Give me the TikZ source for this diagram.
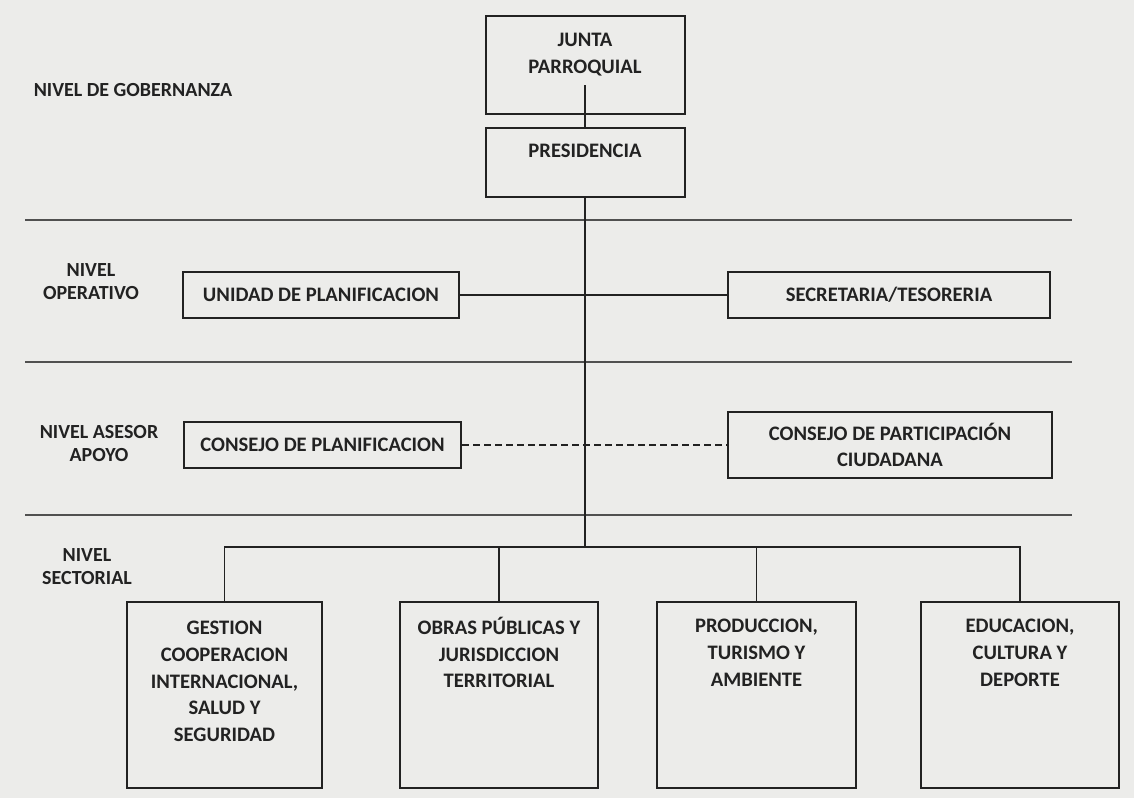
\documentclass[tikz,border=0pt]{standalone}
\usepackage{fontspec}
\setmainfont{Carlito}
\usepackage{tikz}
\usetikzlibrary{positioning}

\definecolor{paper}{RGB}{236,236,234}
\definecolor{ink}{RGB}{34,34,34}
\definecolor{rulegray}{RGB}{80,80,80}

\tikzset{
	unitbox/.style={draw=ink, line width=1pt, inner sep=0pt},
	boxtext/.style={text=ink, font=\bfseries\fontsize{10.3}{13.3}\selectfont, align=center, inner sep=0pt},
	leveltext/.style={text=ink, font=\bfseries\fontsize{10}{11.5}\selectfont, align=center, inner sep=0pt},
	link/.style={draw=ink, line width=0.8pt},
	levelrule/.style={draw=rulegray, line width=1pt}
}

\begin{document}
\begin{tikzpicture}[x=0.5pt, y=-0.5pt]
	\fill[paper] (0,0) rectangle (1134,798);
	\useasboundingbox (0,0) rectangle (1134,798);
	\foreach \y in {220,362,515}
	{
		\draw[levelrule] (25,\y) -- (1072,\y);
	}
	\node[leveltext] (gobernanza) at (133,90) {NIVEL DE GOBERNANZA};
	\node[leveltext] (operativo) at (91,282) {NIVEL\\OPERATIVO};
	\node[leveltext] (asesor) at (99,444) {NIVEL ASESOR\\APOYO};
	\node[leveltext] (sectorial) at (87,567) {NIVEL\\SECTORIAL};

	\node[unitbox, minimum width=99.5pt, minimum height=49pt] (junta) at (585,65) {};
	\node[boxtext, below=9pt of junta.north] (juntaT) {JUNTA\\PARROQUIAL};
	\node[unitbox, minimum width=99.5pt, minimum height=34.5pt] (pres) at (585,162.5) {};
	\node[boxtext, below=8.5pt of pres.north] (presT) {PRESIDENCIA};

	\node[unitbox, minimum width=138pt, minimum height=23pt] (unidad) at (321,295) {};
	\node[boxtext] (unidadT) at (unidad) {UNIDAD DE PLANIFICACION};
	\node[unitbox, minimum width=161pt, minimum height=23pt] (secretaria) at (889,295) {};
	\node[boxtext] (secretariaT) at (secretaria) {SECRETARIA/TESORERIA};

	\node[unitbox, minimum width=138.5pt, minimum height=23pt] (consejo) at (322.5,445) {};
	\node[boxtext] (consejoT) at (consejo) {CONSEJO DE PLANIFICACION};
	\node[unitbox, minimum width=162pt, minimum height=33pt] (participacion) at (890,445) {};
	\node[boxtext] (participacionT) at (participacion) {CONSEJO DE PARTICIPACIÓN\\CIUDADANA};

	\node[unitbox, minimum width=97.5pt, minimum height=93pt] (gestion) at (224.5,695) {};
	\node[boxtext, below=10pt of gestion.north] (gestionT) {GESTION\\COOPERACION\\INTERNACIONAL,\\SALUD Y\\SEGURIDAD};
	\node[unitbox, minimum width=99pt, minimum height=93pt] (obras) at (499,695) {};
	\node[boxtext, below=8pt of obras.north] (obrasT) {OBRAS PÚBLICAS Y\\JURISDICCION\\TERRITORIAL};
	\node[unitbox, minimum width=99.5pt, minimum height=93pt] (produccion) at (756.5,695) {};
	\node[boxtext, below=9pt of produccion.north] (produccionT) {PRODUCCION,\\TURISMO Y\\AMBIENTE};
	\node[unitbox, minimum width=99pt, minimum height=93pt] (educacion) at (1020,695) {};
	\node[boxtext, below=9pt of educacion.north] (educacionT) {EDUCACION,\\CULTURA Y\\DEPORTE};

	\coordinate (juntaline) at (585,85);
	\coordinate (bus) at (585,547);
	\draw[link] (juntaline) -- (pres.north);
	\draw[link] (pres.south) -- (bus);
	\draw[link] (unidad.east) -- (secretaria.west);
	\draw[link, dash pattern=on 3.5pt off 2pt] (consejo.east) -- (participacion.west);
	\draw[link] (gestion.north) |- (bus) -| (educacion.north);
	\foreach \n in {obras,produccion}
	{
		\draw[link] (\n.north) -- (\n.north |- bus);
	}
\end{tikzpicture}
\end{document}
